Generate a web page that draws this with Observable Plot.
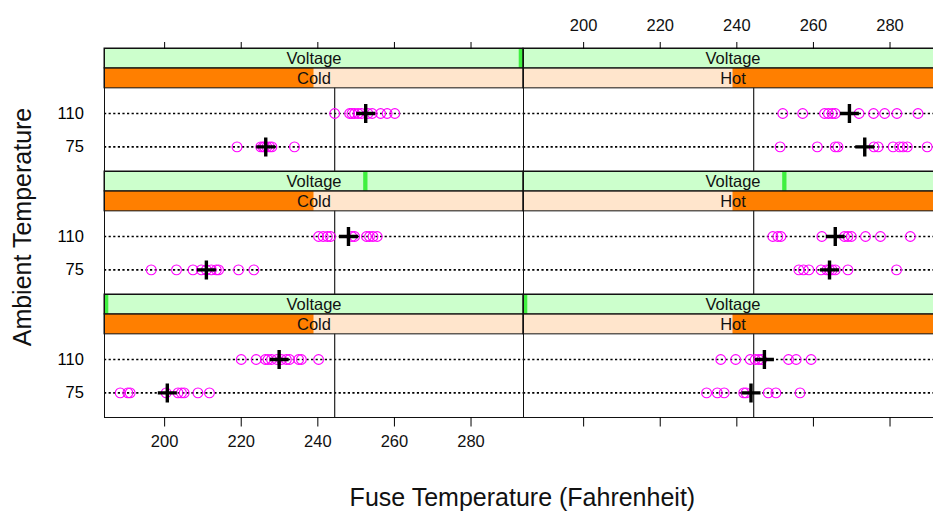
<!DOCTYPE html>
<html><head><meta charset="utf-8">
<script src="https://cdn.jsdelivr.net/npm/d3@7"></script>
<script src="https://cdn.jsdelivr.net/npm/@observablehq/plot@0.6"></script>
<style>
html,body{margin:0;padding:0;background:#fff;overflow:hidden;}
body{width:933px;height:515px;position:relative;font-family:"Liberation Sans",Arial,sans-serif;}
#chart{position:absolute;left:0;top:0;}
#chart svg{max-width:none !important;}
.lab{position:absolute;white-space:nowrap;font-size:25px;line-height:1;color:#111;}
#ylab{left:21.7px;top:227px;transform:translate(-50%,-50%) rotate(-90deg);}
#xlab{left:522.4px;top:497px;transform:translate(-50%,-50%);}
</style></head><body>
<div id="chart"></div>
<div class="lab" id="ylab">Ambient Temperature</div>
<div class="lab" id="xlab">Fuse Temperature (Fahrenheit)</div>
<script>
// ---- data ----
const columns = ["Cold", "Hot"];
const voltageRows = ["high", "mid", "low"];      // top to bottom
const voltageStripPosition = [1, 0.625, 0];      // position of level in Voltage strip
const ambientLevels = [75, 110];
const xTicks = [200, 220, 240, 260, 280];
const referenceLine = 244.4;

const coldHigh110 = [244.4, 248.3, 248.9, 249.6, 250.5, 251.4, 253.1, 254.2, 256.4, 258.1, 260.1];
const coldHigh75  = [218.9, 225.1, 225.7, 226.1, 226.7, 227.4, 228.0, 233.9];
const hotHigh110  = [252.0, 257.2, 262.9, 263.9, 264.9, 265.7, 271.9, 275.7, 278.6, 281.8, 287.3];
const hotHigh75   = [251.3, 261.0, 265.7, 266.4, 275.8, 276.9, 280.8, 282.5, 283.4, 284.5, 289.7];
const coldMid110  = [240.2, 241.4, 242.5, 243.3, 248.9, 249.6, 252.7, 253.5, 254.4, 255.5];
const coldMid75   = [196.5, 203.1, 207.4, 209.6, 210.9, 212.2, 213.5, 214.1, 219.3, 223.3];
const hotMid110   = [249.4, 250.7, 251.5, 262.2, 268.1, 269.0, 269.9, 273.6, 277.5, 285.3];
const hotMid75    = [256.2, 257.4, 258.8, 262.0, 263.5, 264.2, 264.9, 265.7, 269.0, 281.7];
const coldLow110  = [220.0, 223.9, 226.3, 227.0, 227.9, 229.3, 230.5, 231.8, 232.6, 235.0, 235.7, 240.2];
const coldLow75   = [188.4, 190.4, 191.0, 200.4, 203.5, 204.4, 205.1, 208.7, 211.7];
const hotLow110   = [235.8, 239.7, 243.5, 244.8, 245.7, 246.5, 253.5, 255.5, 259.4];
const hotLow75    = [232.1, 234.9, 236.7, 241.8, 242.4, 248.2, 250.2, 256.5];

// group means (black crosses), order: [75, 110]
const meansColdHigh = [226.4, 252.5];
const meansHotHigh  = [273.4, 269.4];
const meansColdMid  = [210.9, 248.0];
const meansHotMid   = [264.2, 265.7];
const meansColdLow  = [200.7, 229.9];
const meansHotLow   = [243.7, 247.2];

// ---- tables built from the arrays ----
const groups = [
  ["Cold","high",75,coldHigh75],["Cold","high",110,coldHigh110],
  ["Hot","high",75,hotHigh75],["Hot","high",110,hotHigh110],
  ["Cold","mid",75,coldMid75],["Cold","mid",110,coldMid110],
  ["Hot","mid",75,hotMid75],["Hot","mid",110,hotMid110],
  ["Cold","low",75,coldLow75],["Cold","low",110,coldLow110],
  ["Hot","low",75,hotLow75],["Hot","low",110,hotLow110]
];
const points = groups.flatMap(([col,row,amb,vals]) => vals.map(v => ({col,row,amb,fuse:v})));
const meanSets = [["Cold","high",meansColdHigh],["Hot","high",meansHotHigh],["Cold","mid",meansColdMid],
  ["Hot","mid",meansHotMid],["Cold","low",meansColdLow],["Hot","low",meansHotLow]];
const means = meanSets.flatMap(([col,row,m]) => ambientLevels.map((amb,i) => ({col,row,amb,fuse:m[i]})));
const cells = columns.flatMap(col => voltageRows.map((row,i) => ({col,row,pos:voltageStripPosition[i]})));
const lines = cells.flatMap(c => ambientLevels.map(amb => ({...c, amb})));
const yOf = d => ambientLevels.indexOf(d.amb) + 1;

// ---- layout ----
const xDomain = [184.3, 293.7];
const xMid = (xDomain[0] + xDomain[1]) / 2;
const span = xDomain[1] - xDomain[0];
const barW = 1.12;
const yMin = 0.263, panelTop = 2.753, stripMid = 3.350, yMax = 3.946;

const cross = {
  draw(ctx, size) {
    const r = Math.sqrt(size / Math.PI);
    ctx.moveTo(-r, 0); ctx.lineTo(r, 0);
    ctx.moveTo(0, -r); ctx.lineTo(0, r);
  }
};

const F = {fx: "col", fy: "row"};
const chart = Plot.plot({
  width: 960, height: 515,
  marginLeft: 103.3, marginRight: 18.3, marginTop: 47.3, marginBottom: 97.5,
  style: {fontFamily: "'Liberation Sans', Arial, sans-serif", fontSize: "16.5px", background: "white", overflow: "visible"},
  fx: {domain: columns, padding: 0, axis: null},
  fy: {domain: voltageRows, padding: 0, axis: null},
  x: {domain: xDomain},
  y: {domain: [yMin, yMax]},
  marks: [
    Plot.rect(cells, {...F, x1: () => xDomain[0], x2: () => xDomain[1], y1: () => stripMid, y2: () => yMax, fill: "#ccffcc"}),
    Plot.rect(cells, {...F, x1: () => xDomain[0], x2: () => xDomain[1], y1: () => panelTop, y2: () => stripMid, fill: "#ffe5cc"}),
    Plot.rect(cells, {...F, x1: d => d.col === "Cold" ? xDomain[0] : xMid, x2: d => d.col === "Cold" ? xMid : xDomain[1],
      y1: () => panelTop, y2: () => stripMid, fill: "#ff7f00"}),
    Plot.rect(cells, {...F, x1: d => xDomain[0] + d.pos * (span - barW), x2: d => xDomain[0] + d.pos * (span - barW) + barW,
      y1: () => stripMid, y2: () => yMax, fill: "#40f040"}),
    Plot.rect(cells, {...F, x1: () => xDomain[0], x2: () => xDomain[1], y1: () => stripMid, y2: () => yMax, stroke: "#111", fill: "none"}),
    Plot.rect(cells, {...F, x1: () => xDomain[0], x2: () => xDomain[1], y1: () => panelTop, y2: () => stripMid, stroke: "#111", fill: "none"}),
    Plot.text(cells, {...F, x: () => xMid, y: () => (stripMid + yMax) / 2, text: () => "Voltage", fill: "#111", fontSize: 16.5}),
    Plot.text(cells, {...F, x: () => xMid, y: () => (panelTop + stripMid) / 2, text: "col", fill: "#111", fontSize: 16.5}),
    Plot.ruleY(lines, {...F, y: yOf, stroke: "black", strokeWidth: 1.7, strokeDasharray: "2.2,2.4"}),
    Plot.ruleX(cells, {...F, x: () => referenceLine, y1: () => yMin, y2: () => panelTop, stroke: "#222", strokeWidth: 1.2}),
    Plot.dot(points, {...F, x: "fuse", y: yOf, r: 4.9, stroke: "#ff00ff", strokeWidth: 1.1, fill: "none"}),
    Plot.dot(means, {...F, x: "fuse", y: yOf, r: 9.5, symbol: cross, stroke: "black", strokeWidth: 3.4, fill: "none"}),
    Plot.frame({stroke: "#111"}),
    Plot.axisY({ticks: [1, 2], tickFormat: i => String(ambientLevels[i - 1]), tickSize: 0, tickPadding: 20.6, fontSize: 16.5, label: null}),
    Plot.axisX({anchor: "bottom", ticks: xTicks, tickSize: 9.5, tickFormat: () => "", label: null}),
    Plot.axisX({anchor: "top", ticks: xTicks, tickSize: 7, tickFormat: () => "", label: null}),
    Plot.text(xTicks.map(v => ({v, col: "Cold", row: "low"})), {...F, x: "v", frameAnchor: "bottom", dy: 29, text: d => String(d.v), fontSize: 16.5, fill: "#111"}),
    Plot.text(xTicks.map(v => ({v, col: "Hot", row: "high"})), {...F, x: "v", frameAnchor: "top", dy: -29, text: d => String(d.v), fontSize: 16.5, fill: "#111"})
  ]
});
chart.style.maxWidth = "none";
document.getElementById("chart").appendChild(chart);
</script>
</body></html>
